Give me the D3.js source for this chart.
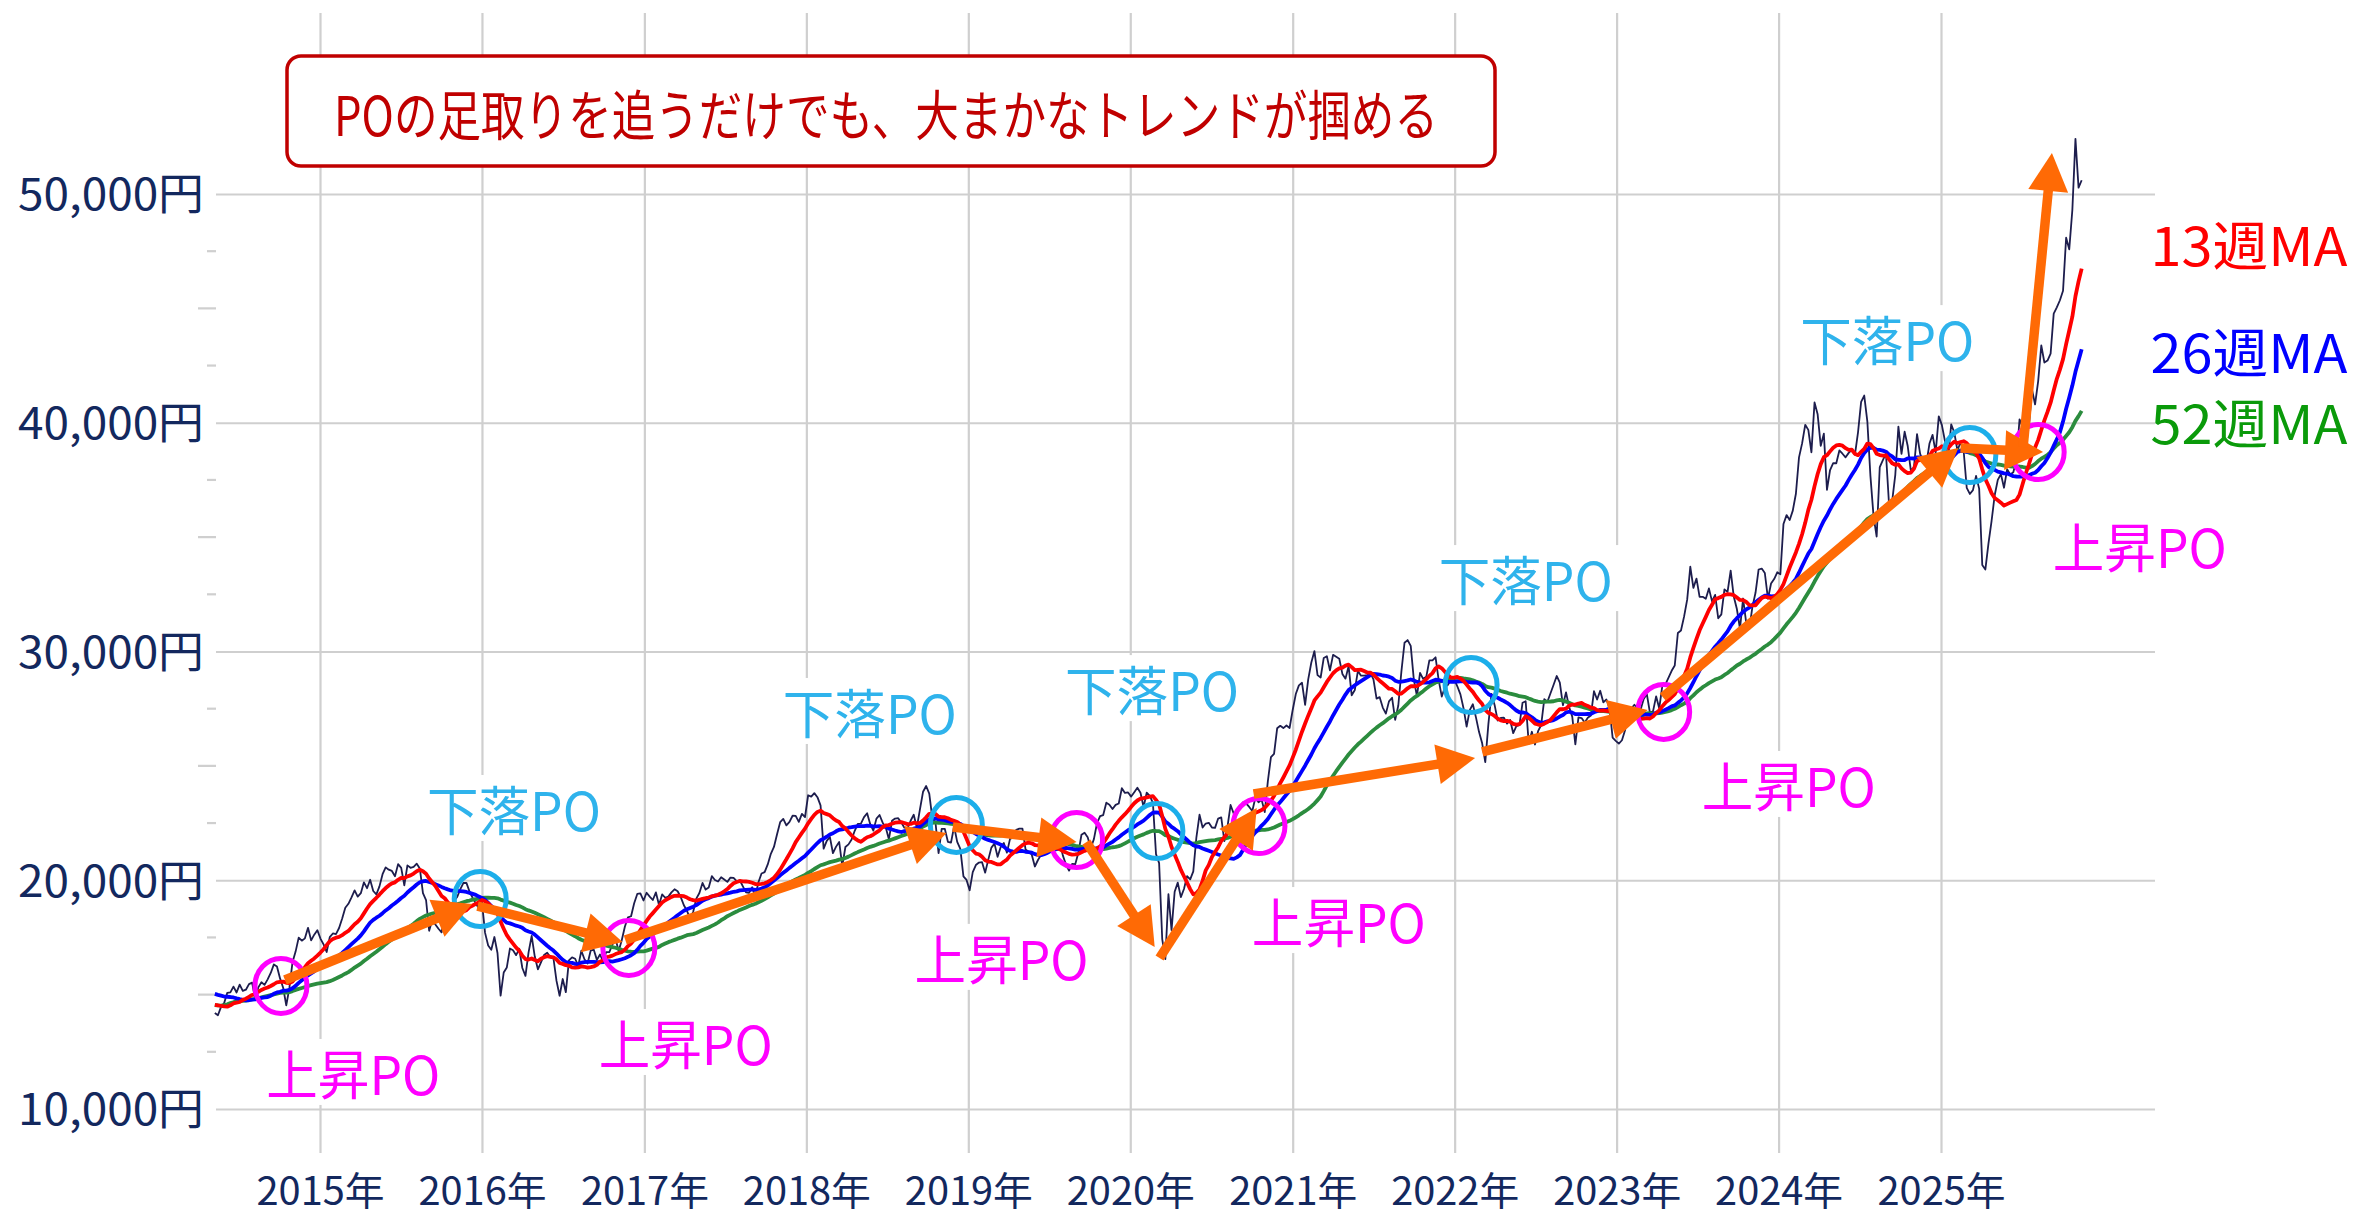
<!DOCTYPE html>
<html>
<head>
<meta charset="utf-8">
<title>日経平均 週足と移動平均線のPO</title>
<script src="https://cdn.jsdelivr.net/npm/d3@7"></script>
<style>
  html, body { margin: 0; padding: 0; background: #fff; }
  svg { display: block; font-family: 'Noto Sans CJK JP', 'Noto Sans', sans-serif; }
</style>
</head>
<body>
<svg id="chart" width="2357" height="1215"></svg>
<script>
// weekly closes (Fridays), the visible chart starts with the week of 2014-05-09
var firstWeek = '2014-05-09'

// 2013-05-17 .. 2014-05-02, not drawn, only used so the MAs have a full window at the left edge
var closesBefore = [15138, 14612, 13775, 12877, 12687, 13230, 13677, 14310, 14507, 14589, 14130,
  14467, 13616, 13753, 13661, 13389, 13861, 14405, 14742, 14760, 14025, 14405, 14562, 14088,
  14202, 14086, 15166, 15382, 15662, 15299, 15403, 15870, 16179, 16291, 15912, 15734, 15391,
  14915, 14462, 14313, 14866, 14841, 15274, 14327, 14224, 14696, 15063, 13960, 14516, 14429, 14458]

var close2014 = [14199, 14097, 14462, 14632, 15077, 15097, 15349, 15095, 15437, 15164, 15215, 15457,
  15523, 14778, 15318, 15539, 15425, 15669, 15948, 16321, 16229, 15709, 15300, 14533, 15291, 16414,
  16880, 17490, 17358, 17460, 17921, 17371, 17621, 17818]
var close2015 = [17451, 17198, 16864, 17511, 17674, 17648, 17913, 18332, 18798, 18971, 19254, 19560,
  19286, 19435, 19908, 19653, 20020, 19531, 19380, 19733, 20264, 20563, 20461, 20407, 20174, 20706,
  20540, 19780, 20650, 20544, 20585, 20724, 20519, 19436, 19136, 17792, 18264, 18070, 17880, 17725,
  18438, 18291, 18826, 19083, 19265, 19597, 19879, 19884, 19504, 19230, 18987, 18770]
var close2016 = [19034, 17698, 17147, 16959, 17518, 16820, 14953, 15967, 16188, 17015, 16939, 16725,
  17003, 16164, 15822, 16848, 17572, 16666, 16106, 16412, 16736, 16834, 16642, 16601, 15599, 14952,
  15682, 15107, 16497, 16627, 16569, 16254, 16920, 16546, 16361, 16926, 16965, 16519, 16754, 16450,
  16860, 16856, 17184, 17446, 16905, 17374, 17968, 18381, 18426, 18996, 19401, 19428, 19114]
var close2017 = [19454, 19287, 19137, 19467, 18918, 19378, 19235, 19284, 19469, 19605, 19521, 19263,
  18909, 18665, 18335, 18620, 19197, 19445, 19883, 19591, 19687, 20178, 20013, 19943, 20133, 20033,
  19929, 20119, 20100, 19960, 20000, 19730, 19470, 19453, 19691, 19275, 19910, 20296, 20356, 20691,
  21155, 21457, 22008, 22539, 22681, 22397, 22551, 22819, 22811, 22553, 22902, 22765]
var close2018 = [23715, 23653, 23808, 23631, 23274, 21383, 21720, 21893, 21182, 21470, 21676, 20618,
  21454, 21568, 21779, 22163, 22468, 22473, 22758, 22930, 22451, 22171, 22695, 22852, 22517, 22305,
  21788, 22597, 22698, 22713, 22525, 22298, 22270, 22601, 22865, 22307, 23095, 23870, 24120, 23784,
  22694, 22532, 21184, 22243, 22250, 21680, 21646, 22351, 21679, 21375, 20166, 20015]
var close2019 = [19561, 20359, 20666, 20773, 20788, 20333, 20900, 21426, 21602, 21025, 21451, 21627,
  21206, 21807, 21871, 22200, 22259, 22259, 21345, 21250, 21117, 20601, 20885, 21117, 21259, 21276,
  21746, 21686, 21467, 21658, 21087, 20685, 20419, 20711, 20704, 21200, 21988, 22079, 21879, 21410,
  21799, 22492, 22800, 22851, 23392, 23303, 23113, 23294, 23354, 24023, 23816, 23837]
var close2020 = [23657, 23851, 24041, 23827, 23205, 23828, 23688, 23387, 21143, 20750, 17431, 16553,
  19389, 17820, 19499, 19897, 19262, 19619, 20179, 20037, 20388, 21878, 22863, 22305, 22479, 22512,
  22306, 22291, 22696, 22751, 21710, 22329, 23289, 22920, 22882, 23205, 23406, 23360, 23205, 23030,
  23619, 23410, 23516, 22977, 24325, 25385, 25527, 26644, 26751, 26652, 26763, 26656]
var close2021 = [27444, 28139, 28519, 28631, 27663, 28779, 29520, 30018, 28966, 28864, 29717, 29792,
  29176, 29854, 29768, 29683, 29020, 28813, 29357, 28084, 28318, 29149, 28942, 28949, 28964, 29066,
  28783, 27940, 28003, 27548, 27284, 27820, 27977, 27013, 27641, 29128, 30382, 30500, 30249, 28771,
  28049, 29069, 28805, 28893, 29612, 29610, 29746, 28752, 28030, 28438, 28546, 28783, 28792]
var close2022 = [28479, 28124, 27522, 26717, 27440, 27696, 27122, 26476, 25985, 25163, 26827, 28150,
  27666, 26985, 27093, 27105, 26848, 27004, 26428, 26739, 26782, 27762, 27824, 25963, 26491, 25936,
  26517, 26788, 27915, 27802, 28176, 28547, 28930, 28642, 27651, 28215, 27568, 27154, 25937, 27116,
  27091, 26891, 27105, 27199, 28264, 27900, 28283, 27777, 27901, 27527, 26235, 26095]
var close2023 = [25974, 26120, 26554, 27383, 27509, 27671, 27513, 27453, 27927, 28144, 27334, 27385,
  28041, 27518, 28493, 28564, 28856, 29158, 29388, 30808, 30916, 31524, 32265, 33706, 32782, 33189,
  32388, 32391, 32304, 32759, 32193, 32474, 31451, 31625, 32711, 32607, 33533, 32402, 31858, 30995,
  32316, 31259, 30991, 31950, 32568, 33585, 33625, 33432, 32307, 32971, 33169, 33464]
var close2024 = [33377, 35577, 35963, 35751, 36158, 36897, 38487, 39098, 39911, 39689, 38708, 40888,
  40369, 38992, 39523, 37068, 37934, 38236, 38229, 38787, 38646, 38488, 38683, 38815, 38596, 39583,
  40912, 41190, 40063, 37667, 35910, 35025, 38063, 38364, 38648, 36391, 36581, 37724, 39830, 38636,
  39606, 38982, 37914, 38054, 39500, 38642, 38284, 38208, 39091, 39470, 38702, 40281]
var close2025 = [39895, 39190, 38451, 39931, 39572, 38787, 39149, 38777, 37156, 36887, 37053, 37677,
  37120, 33781, 33586, 34730, 35706, 36831, 37503, 37754, 37160, 37965, 37741, 37834, 38403, 40150,
  39811, 39570, 39819, 41456, 40800, 41820, 43378, 42633, 42718, 43019, 44768, 45045, 45355, 45770,
  48089, 47582, 49300, 52411, 50276, 50600]

var yearTicks = [2015, 2016, 2017, 2018, 2019, 2020, 2021, 2022, 2023, 2024, 2025]
var valueTicks = [10000, 20000, 30000, 40000, 50000]
var minorTicks = [12500, 15000, 17500, 22500, 25000, 27500, 32500, 35000, 37500, 42500, 45000, 47500]

// 上昇PO / 下落PO markers
var upPO = [['2014-10-05', 15380], ['2016-11-27', 17040], ['2019-09-02', 21760],
  ['2020-10-17', 22370], ['2023-04-17', 27360], ['2025-08-08', 38720]]
var downPO = [['2015-12-28', 19180], ['2018-12-05', 22420], ['2020-03-01', 22150],
  ['2022-02-07', 28540], ['2025-03-07', 38590]]
var upLabels = [['2015-03-17', 11620], ['2017-04-04', 12930], ['2019-03-17', 16650],
  ['2021-04-15', 18260], ['2024-01-24', 24210], ['2026-03-25', 34660]]
var downLabels = [['2016-03-13', 23160], ['2018-05-24', 27400], ['2020-02-19', 28400],
  ['2022-06-10', 33210], ['2024-09-02', 43700]]

// trend arrows: from date, from value, to date, to value
var arrows = [
  ['2014-10-14', 15640, '2015-12-10', 18960],
  ['2015-12-22', 18870, '2016-11-13', 17300],
  ['2016-11-19', 17390, '2018-11-13', 22070],
  ['2018-11-27', 22330, '2019-09-02', 21670],
  ['2019-09-24', 21670, '2020-02-25', 17080],
  ['2020-03-07', 16600, '2020-10-12', 23160],
  ['2020-10-05', 23770, '2022-02-16', 25340],
  ['2022-03-04', 25610, '2023-03-12', 27440],
  ['2023-04-15', 28010, '2025-02-09', 38900],
  ['2025-02-14', 38900, '2025-08-19', 38720],
  ['2025-07-05', 38940, '2025-09-08', 51790]
]

var maNames = ['13週MA', '26週MA', '52週MA']
var maWeeks = [13, 26, 52]
var maColors = ['#ff0000', '#0000ff', '#2b8c3e']
var maLabelColors = ['#ff0000', '#0000ff', '#0a9a0a']
var maLabelValues = [47860, 43180, 40080]
var maLabelDate = '2026-04-18'

var title = 'POの足取りを追うだけでも、大まかなトレンドが掴める'

var parse = d3.utcParse('%Y-%m-%d')
var svg = d3.select('#chart')

var x = d3.scaleUtc()
  .domain([parse('2015-01-01'), parse('2025-01-01')])
  .range([320, 1941])
var y = d3.scaleLinear()
  .domain([10000, 50000])
  .range([1109, 194])

var plotLeft = 216, plotRight = 2155, plotTop = 13, plotBottom = 1153

var allCloses = closesBefore.concat(close2014, close2015, close2016, close2017, close2018, close2019,
  close2020, close2021, close2022, close2023, close2024, close2025)
var lead = closesBefore.length
var start = parse(firstWeek)
var weeks = allCloses.slice(lead).map(function(v, i) {
  return {date: d3.utcDay.offset(start, 7 * i), value: v}
})

function movingAverage(n) {
  return weeks.map(function(w, i) {
    var j = lead + i
    return {date: w.date, value: d3.mean(allCloses.slice(Math.max(0, j - n + 1), j + 1))}
  })
}

svg.append('rect').attr('width', 2357).attr('height', 1215).attr('fill', '#fff')

// horizontal grid + y labels
var yAxis = svg.append('g')
  .attr('transform', 'translate(' + plotLeft + ',0)')
  .call(d3.axisLeft(y).tickValues(valueTicks).tickSize(-(plotRight - plotLeft)).tickPadding(12)
    .tickFormat(function(d) { return d3.format(',')(d) + '円' }))
yAxis.select('.domain').remove()
yAxis.selectAll('.tick line').attr('stroke', '#cfcfcf').attr('stroke-width', 2.2)
yAxis.selectAll('.tick text')
  .attr('fill', '#13285e').attr('font-size', 44).attr('dy', '0.36em')
  .attr('textLength', 186).attr('lengthAdjust', 'spacingAndGlyphs')
  .style('font-family', "'Noto Sans CJK JP', sans-serif")

// vertical grid + year labels
var xAxis = svg.append('g')
  .attr('transform', 'translate(0,' + plotBottom + ')')
  .call(d3.axisBottom(x)
    .tickValues(yearTicks.map(function(yr) { return new Date(Date.UTC(yr, 0, 1)) }))
    .tickSize(-(plotBottom - plotTop)).tickPadding(24)
    .tickFormat(function(d) { return d.getUTCFullYear() + '年' }))
xAxis.select('.domain').remove()
xAxis.selectAll('.tick line').attr('stroke', '#cfcfcf').attr('stroke-width', 2.2)
xAxis.selectAll('.tick text')
  .attr('fill', '#13285e').attr('font-size', 39)
  .attr('textLength', 128).attr('lengthAdjust', 'spacingAndGlyphs')
  .style('font-family', "'Noto Sans CJK JP', sans-serif")

// minor ticks on the value axis
svg.append('g').selectAll('line')
  .data(minorTicks)
  .enter().append('line')
    .attr('x1', function(d) { return d % 5000 === 0 ? plotLeft - 18 : plotLeft - 9 })
    .attr('x2', plotLeft)
    .attr('y1', function(d) { return y(d) })
    .attr('y2', function(d) { return y(d) })
    .attr('stroke', '#cfcfcf').attr('stroke-width', 2.2)

// white boxes behind the PO labels
var labelW = 174, labelH = 66
var allLabels = upLabels.map(function(d) { return {d: d, text: '上昇PO', color: '#ff00ff'} })
  .concat(downLabels.map(function(d) { return {d: d, text: '下落PO', color: '#2fb3ec'} }))
svg.append('g').selectAll('rect')
  .data(allLabels)
  .enter().append('rect')
    .attr('x', function(l) { return x(parse(l.d[0])) - labelW / 2 - 8 })
    .attr('y', function(l) { return y(l.d[1]) - labelH / 2 })
    .attr('width', labelW + 16).attr('height', labelH)
    .attr('fill', '#fff')

// price and moving averages
var line = d3.line()
  .x(function(d) { return x(d.date) })
  .y(function(d) { return y(d.value) })

svg.append('path')
  .datum(weeks)
  .attr('d', line)
  .attr('fill', 'none').attr('stroke', '#1d1d4d').attr('stroke-width', 1.8)
  .attr('stroke-linejoin', 'round')

for (var m = maWeeks.length - 1; m >= 0; m--) {
  svg.append('path')
    .datum(movingAverage(maWeeks[m]))
    .attr('d', line)
    .attr('fill', 'none').attr('stroke', maColors[m]).attr('stroke-width', 3.8)
    .attr('stroke-linejoin', 'round')
}

// PO circles
function drawRings(data, color) {
  svg.append('g').selectAll('ellipse')
    .data(data)
    .enter().append('ellipse')
      .attr('cx', function(d) { return x(parse(d[0])) })
      .attr('cy', function(d) { return y(d[1]) })
      .attr('rx', 26).attr('ry', 27.5)
      .attr('fill', 'none').attr('stroke', color).attr('stroke-width', 5)
}
drawRings(upPO, '#ff00ff')
drawRings(downPO, '#1caeea')

// arrows
var headLen = 38, headHalf = 20, arrowColor = '#ff6a05'
var arrowG = svg.append('g')
arrows.forEach(function(a) {
  var x0 = x(parse(a[0])), y0 = y(a[1]), x1 = x(parse(a[2])), y1 = y(a[3])
  var dx = x1 - x0, dy = y1 - y0, len = Math.sqrt(dx * dx + dy * dy)
  var ux = dx / len, uy = dy / len
  var bx = x1 - ux * headLen, by = y1 - uy * headLen
  arrowG.append('line')
    .attr('x1', x0).attr('y1', y0)
    .attr('x2', bx + ux * 2).attr('y2', by + uy * 2)
    .attr('stroke', arrowColor).attr('stroke-width', 9.5)
  arrowG.append('polygon')
    .attr('points', [[x1, y1], [bx - uy * headHalf, by + ux * headHalf], [bx + uy * headHalf, by - ux * headHalf]]
      .map(function(p) { return p.join(',') }).join(' '))
    .attr('fill', arrowColor)
})

// PO label text
svg.append('g').selectAll('text')
  .data(allLabels)
  .enter().append('text')
    .attr('x', function(l) { return x(parse(l.d[0])) })
    .attr('y', function(l) { return y(l.d[1]) })
    .attr('text-anchor', 'middle').attr('dominant-baseline', 'central')
    .attr('font-size', 53).attr('fill', function(l) { return l.color })
    .attr('textLength', labelW).attr('lengthAdjust', 'spacingAndGlyphs')
    .text(function(l) { return l.text })

// MA labels at the right
svg.append('g').selectAll('text')
  .data(maNames)
  .enter().append('text')
    .attr('x', x(parse(maLabelDate)))
    .attr('y', function(d, i) { return y(maLabelValues[i]) })
    .attr('dominant-baseline', 'central')
    .attr('font-size', 53).attr('fill', function(d, i) { return maLabelColors[i] })
    .attr('textLength', 197).attr('lengthAdjust', 'spacingAndGlyphs')
    .text(function(d) { return d })

// title callout
var box = svg.append('g')
box.append('rect')
  .attr('x', 287).attr('y', 56).attr('width', 1208).attr('height', 110).attr('rx', 14)
  .attr('fill', '#fff').attr('stroke', '#c00000').attr('stroke-width', 3.5)
box.append('text')
  .attr('x', 886).attr('y', 112)
  .attr('text-anchor', 'middle').attr('dominant-baseline', 'central')
  .attr('font-size', 54).attr('fill', '#c00000')
  .attr('textLength', 1104).attr('lengthAdjust', 'spacingAndGlyphs')
  .text(title)
</script>
</body>
</html>
